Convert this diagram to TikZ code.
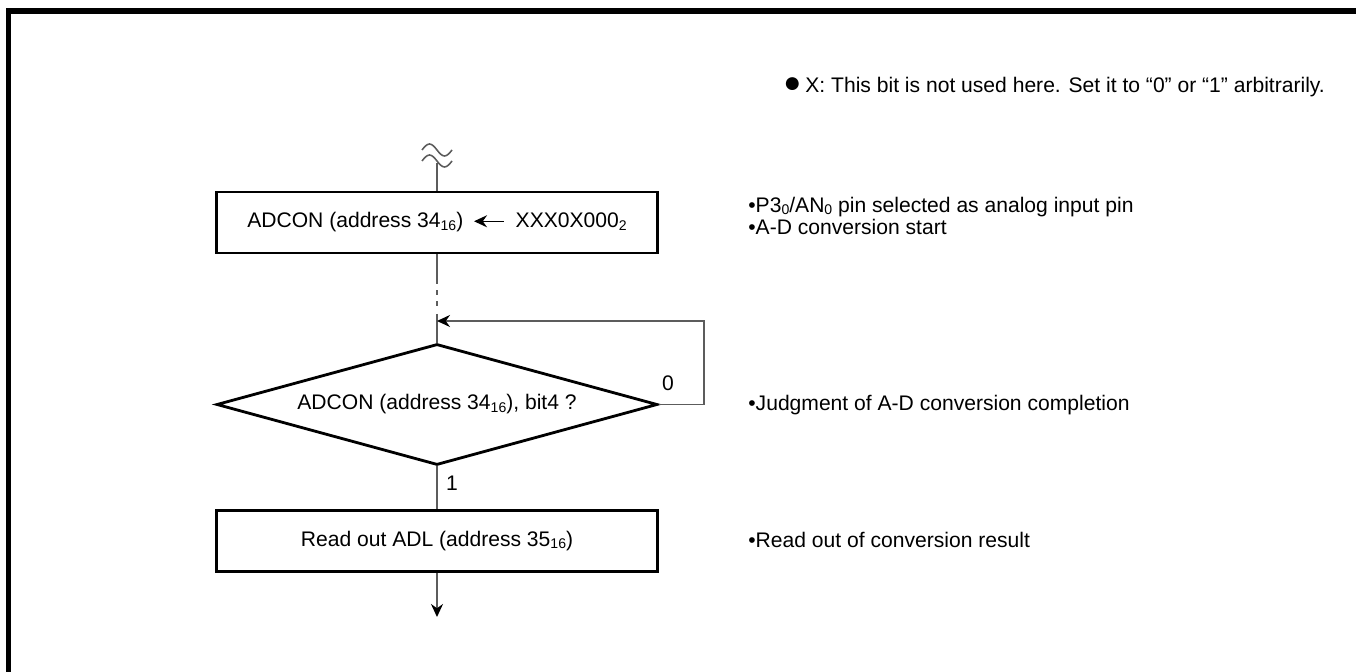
\documentclass[tikz,border=0pt]{standalone}
\usepackage{fontspec}
\setmainfont{Liberation Sans}
\usetikzlibrary{shapes.geometric,arrows.meta}
\definecolor{flowLineGray}{HTML}{5C5C5C}
\newcommand{\lowsub}[1]{\raisebox{-0.2ex}{\fontsize{8}{8}\selectfont #1}}
\newcommand{\boxarrow}{\tikz[baseline=-0.6ex]\draw[line width=0.8pt,{Stealth[length=0.26cm,width=0.24cm]}-] (0,0) -- (0.6cm,0);}

\begin{document}
\begin{tikzpicture}[x=0.02cm, y=-0.02cm,
    txt/.style={font=\fontsize{12}{14}\selectfont, inner sep=0pt},
    procbox/.style={draw, line width=1.6pt, rectangle, minimum width=8.82cm, minimum height=1.22cm, txt},
    decide/.style={draw, line width=1.6pt, diamond, aspect=3.64, minimum width=8.82cm, minimum height=2.42cm, inner sep=0pt, txt},
    flow/.style={draw=flowLineGray, line width=0.9pt},
    tip/.style={-{Stealth[length=0.26cm,width=0.24cm,black]}}]
    \useasboundingbox (0,0) rectangle (1356,672);
    \fill (6,8) rectangle (1356,14);
    \fill (6,8) rectangle (11,672);

    \draw[flow] (422,150) sin (429.5,144) cos (437,150) sin (444.5,156) cos (452,150);
    \draw[flow] (422,161) sin (429.5,155) cos (437,161) sin (444.5,167) cos (452,161);
    \coordinate (start) at (437,163);

    \node[procbox] (adcon) at (437,222.5) {ADCON (address 34\lowsub{16})\hspace{0.2cm}\boxarrow\hspace{0.22cm}XXX0X000\lowsub{2}};
    \node[decide] (judge) at (437,404.5) {ADCON (address 34\lowsub{16}), bit4 ?};
    \node[procbox] (readadl) at (437,541) {Read out ADL (address 35\lowsub{16})};
    \coordinate (loopin) at (437,321);
    \coordinate (finish) at (437,617);

    \draw[flow] (start) -- (adcon.north);
    \draw[flow, dash pattern=on 17pt off 3.4pt on 2.8pt off 3.4pt on 2.8pt off 4.5pt on 60pt] (adcon.south) -- (judge.north);
    \draw[flow, tip] (judge.east) -- ++(45,0) |- (loopin);
    \draw[flow] (judge.south) -- (readadl.north);
    \draw[flow, tip] (readadl.south) -- (finish);

    \node[txt] (zero) at (668,383) {0};
    \node[txt] (one) at (452,483) {1};

    \node[txt, anchor=west] (xnote) at (783,87) {{\fontsize{17}{17}\selectfont ●}\hspace{0.08cm}X: This bit is not used here. Set it to “0” or “1” arbitrarily.};
    \node[txt, anchor=west] (pinnote) at (748,207) {•P3\lowsub{0}/AN\lowsub{0} pin selected as analog input pin};
    \node[txt, anchor=west] (startnote) at (748,227) {•A-D conversion start};
    \node[txt, anchor=west] (judgenote) at (748,405) {•Judgment of A-D conversion completion};
    \node[txt, anchor=west] (readnote) at (748,540) {•Read out of conversion result};
\end{tikzpicture}
\end{document}
